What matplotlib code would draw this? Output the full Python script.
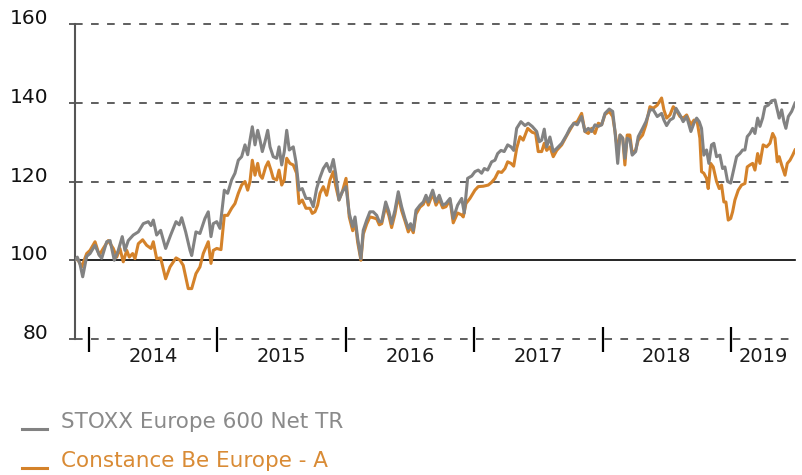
import matplotlib
matplotlib.use("Agg")
import matplotlib.pyplot as plt
from matplotlib.lines import Line2D

# ---------------- data ----------------
stoxx_t = [
    2013.891, 2013.909, 2013.930, 2013.951, 2013.982, 2014.008, 2014.047, 2014.080, 2014.099, 2014.138,
    2014.164, 2014.197, 2014.228, 2014.259, 2014.280, 2014.306, 2014.345, 2014.384, 2014.423, 2014.462,
    2014.483, 2014.501, 2014.527, 2014.558, 2014.597, 2014.636, 2014.678, 2014.703, 2014.722, 2014.753,
    2014.787, 2014.800, 2014.833, 2014.864, 2014.903, 2014.929, 2014.950, 2014.968, 2014.995, 2015.020,
    2015.054, 2015.080, 2015.111, 2015.137, 2015.163, 2015.189, 2015.215, 2015.236, 2015.254, 2015.272,
    2015.293, 2015.314, 2015.332, 2015.350, 2015.371, 2015.392, 2015.410, 2015.435, 2015.462, 2015.480,
    2015.501, 2015.521, 2015.540, 2015.560, 2015.591, 2015.612, 2015.636, 2015.661, 2015.690, 2015.721,
    2015.747, 2015.773, 2015.799, 2015.825, 2015.851, 2015.877, 2015.903, 2015.921, 2015.947, 2015.973,
    2016.002, 2016.027, 2016.054, 2016.072, 2016.093, 2016.118, 2016.136, 2016.163, 2016.188, 2016.214,
    2016.241, 2016.261, 2016.280, 2016.311, 2016.336, 2016.357, 2016.383, 2016.409, 2016.435, 2016.461,
    2016.487, 2016.505, 2016.526, 2016.547, 2016.578, 2016.604, 2016.625, 2016.643, 2016.677, 2016.703,
    2016.728, 2016.755, 2016.780, 2016.812, 2016.837, 2016.871, 2016.903, 2016.923, 2016.949, 2016.981,
    2017.006, 2017.032, 2017.058, 2017.079, 2017.105, 2017.136, 2017.162, 2017.183, 2017.209, 2017.234,
    2017.261, 2017.287, 2017.308, 2017.331, 2017.364, 2017.396, 2017.421, 2017.452, 2017.487, 2017.507,
    2017.526, 2017.546, 2017.565, 2017.590, 2017.616, 2017.643, 2017.682, 2017.720, 2017.746, 2017.777,
    2017.803, 2017.837, 2017.863, 2017.889, 2017.915, 2017.941, 2017.967, 2017.993, 2018.019, 2018.052,
    2018.079, 2018.097, 2018.118, 2018.136, 2018.157, 2018.174, 2018.192, 2018.213, 2018.231, 2018.258,
    2018.278, 2018.312, 2018.338, 2018.369, 2018.395, 2018.426, 2018.460, 2018.478, 2018.499, 2018.525,
    2018.551, 2018.572, 2018.603, 2018.628, 2018.655, 2018.688, 2018.712, 2018.733, 2018.753, 2018.771,
    2018.789, 2018.810, 2018.828, 2018.849, 2018.867, 2018.888, 2018.914, 2018.935, 2018.953, 2018.974,
    2018.998, 2019.018, 2019.044, 2019.070, 2019.091, 2019.109, 2019.127, 2019.148, 2019.169, 2019.187,
    2019.208, 2019.226, 2019.247, 2019.265, 2019.291, 2019.317, 2019.343, 2019.361, 2019.376, 2019.395,
    2019.413, 2019.428, 2019.447, 2019.473, 2019.499,
]
stoxx_v = [
    100.0, 100.8, 99.0, 95.8, 101.0, 101.7, 103.8, 101.3, 100.5, 104.7,
    105.0, 100.0, 102.5, 106.0, 102.5, 105.0, 106.4, 107.2, 109.3, 109.8,
    108.8, 110.2, 106.4, 107.6, 103.0, 106.4, 109.8, 109.0, 110.8, 107.2,
    102.5, 101.2, 107.2, 106.8, 110.6, 112.3, 106.0, 109.3, 109.8, 108.1,
    117.8, 117.0, 120.4, 122.1, 125.4, 126.3, 129.3, 126.8, 130.5, 133.9,
    129.3, 133.0, 130.5, 127.6, 130.1, 133.0, 128.8, 126.3, 125.9, 128.8,
    124.2, 127.6, 133.0, 128.0, 128.8, 125.0, 117.8, 118.2, 115.7, 115.7,
    113.6, 118.2, 121.0, 123.3, 124.6, 122.5, 125.6, 122.1, 115.3, 117.4,
    118.7, 111.9, 108.5, 111.0, 105.5, 100.4, 107.6, 110.2, 112.3, 112.3,
    111.4, 109.8, 109.8, 114.8, 112.3, 109.3, 112.7, 117.4, 113.6, 110.6,
    108.1, 109.3, 107.6, 112.7, 114.0, 114.8, 116.5, 114.8, 117.8, 114.8,
    116.5, 114.0, 114.4, 115.7, 110.6, 114.0, 115.7, 112.0, 120.8, 121.4,
    122.5, 122.9, 122.1, 123.3, 122.9, 125.0, 125.4, 127.1, 127.9, 127.6,
    129.3, 128.8, 127.9, 133.5, 135.2, 134.2, 134.8, 134.0, 132.7, 130.1,
    130.5, 133.3, 128.8, 131.3, 127.6, 128.4, 129.7, 131.8, 133.5, 134.8,
    134.4, 136.5, 132.7, 133.5, 132.7, 134.4, 134.0, 134.4, 137.3, 138.4,
    137.8, 132.7, 124.6, 131.8, 131.0, 125.9, 131.0, 130.5, 126.7, 127.6,
    131.4, 133.5, 135.2, 138.2, 138.2, 136.5, 137.3, 135.6, 134.2, 135.6,
    136.1, 138.6, 136.9, 135.2, 136.5, 132.7, 134.8, 136.1, 135.2, 133.5,
    126.7, 128.0, 124.6, 129.3, 129.7, 126.3, 126.7, 123.3, 123.7, 120.0,
    119.6, 122.5, 126.3, 127.1, 128.0, 128.0, 131.4, 132.2, 133.5, 132.2,
    136.1, 134.0, 136.1, 139.0, 139.4, 140.5, 140.7, 138.2, 136.1, 138.2,
    135.2, 133.5, 136.5, 137.8, 139.9,
]

fund_t = [
    2013.891, 2013.909, 2013.943, 2013.982, 2014.008, 2014.047, 2014.080, 2014.111, 2014.150, 2014.189,
    2014.216, 2014.241, 2014.267, 2014.294, 2014.314, 2014.340, 2014.358, 2014.384, 2014.418, 2014.449,
    2014.483, 2014.501, 2014.527, 2014.558, 2014.597, 2014.631, 2014.678, 2014.709, 2014.734, 2014.773,
    2014.800, 2014.833, 2014.864, 2014.890, 2014.929, 2014.950, 2014.968, 2014.995, 2015.028, 2015.054,
    2015.080, 2015.111, 2015.137, 2015.163, 2015.189, 2015.215, 2015.236, 2015.254, 2015.272, 2015.293,
    2015.314, 2015.332, 2015.350, 2015.376, 2015.396, 2015.417, 2015.435, 2015.462, 2015.480, 2015.501,
    2015.521, 2015.540, 2015.565, 2015.591, 2015.617, 2015.636, 2015.661, 2015.690, 2015.721, 2015.739,
    2015.760, 2015.781, 2015.799, 2015.825, 2015.851, 2015.877, 2015.903, 2015.921, 2015.947, 2015.973,
    2016.002, 2016.027, 2016.054, 2016.072, 2016.093, 2016.118, 2016.136, 2016.163, 2016.188, 2016.214,
    2016.241, 2016.261, 2016.280, 2016.311, 2016.336, 2016.357, 2016.383, 2016.409, 2016.435, 2016.461,
    2016.487, 2016.505, 2016.526, 2016.547, 2016.578, 2016.604, 2016.625, 2016.643, 2016.677, 2016.703,
    2016.728, 2016.755, 2016.780, 2016.812, 2016.837, 2016.871, 2016.903, 2016.915, 2016.936, 2016.967,
    2017.006, 2017.032, 2017.071, 2017.110, 2017.136, 2017.162, 2017.188, 2017.214, 2017.240, 2017.261,
    2017.287, 2017.308, 2017.331, 2017.357, 2017.382, 2017.417, 2017.452, 2017.479, 2017.499, 2017.526,
    2017.546, 2017.565, 2017.590, 2017.616, 2017.643, 2017.682, 2017.720, 2017.746, 2017.777, 2017.803,
    2017.837, 2017.863, 2017.889, 2017.915, 2017.941, 2017.967, 2017.993, 2018.019, 2018.052, 2018.079,
    2018.097, 2018.118, 2018.136, 2018.157, 2018.174, 2018.192, 2018.213, 2018.231, 2018.258, 2018.278,
    2018.312, 2018.338, 2018.369, 2018.395, 2018.426, 2018.460, 2018.478, 2018.499, 2018.525, 2018.551,
    2018.572, 2018.603, 2018.628, 2018.655, 2018.688, 2018.712, 2018.737, 2018.758, 2018.771, 2018.789,
    2018.810, 2018.823, 2018.842, 2018.862, 2018.888, 2018.909, 2018.927, 2018.945, 2018.961, 2018.979,
    2018.998, 2019.013, 2019.031, 2019.057, 2019.083, 2019.109, 2019.127, 2019.148, 2019.169, 2019.187,
    2019.208, 2019.226, 2019.251, 2019.278, 2019.304, 2019.325, 2019.343, 2019.361, 2019.376, 2019.395,
    2019.421, 2019.439, 2019.460, 2019.481, 2019.499,
]
fund_v = [
    100.0, 100.5, 98.3, 101.7, 102.5, 104.7, 101.3, 103.0, 105.0, 103.0,
    100.8, 103.0, 99.6, 102.5, 100.8, 101.7, 100.4, 104.2, 105.2, 103.8,
    103.0, 104.7, 100.4, 100.6, 95.3, 98.3, 100.6, 100.0, 98.7, 92.8,
    92.8, 96.6, 98.3, 101.7, 104.7, 99.2, 102.5, 103.0, 102.7, 111.4,
    111.4, 113.2, 114.4, 117.0, 119.1, 120.0, 117.8, 120.0, 125.4, 121.6,
    124.6, 121.6, 120.8, 123.7, 125.0, 122.9, 120.8, 120.4, 122.9, 119.1,
    120.4, 125.9, 124.6, 124.2, 122.1, 114.4, 115.3, 113.2, 113.2, 111.9,
    112.3, 114.0, 117.0, 118.7, 116.5, 120.4, 122.5, 119.0, 115.3, 117.4,
    120.8, 111.0, 107.5, 110.0, 104.5, 100.0, 106.6, 109.2, 111.0, 110.8,
    110.5, 109.0, 109.3, 113.8, 111.3, 108.3, 111.7, 116.4, 112.6, 110.0,
    107.2, 108.5, 107.0, 111.7, 113.5, 114.2, 115.8, 114.0, 116.9, 114.0,
    115.5, 113.3, 113.6, 115.3, 109.5, 112.0, 111.5, 111.0, 114.4, 115.7,
    117.8, 118.7, 118.8, 119.1, 119.8, 120.8, 122.5, 122.3, 123.3, 125.0,
    124.6, 123.9, 128.4, 131.4, 130.5, 133.5, 132.5, 132.2, 127.6, 127.6,
    129.7, 127.9, 128.8, 126.3, 127.9, 129.3, 131.6, 133.1, 134.8, 135.2,
    137.3, 132.7, 132.2, 133.5, 132.2, 134.8, 134.4, 137.0, 137.8, 136.5,
    132.7, 127.6, 131.8, 131.0, 124.2, 131.8, 131.8, 127.1, 128.0, 130.5,
    131.8, 134.4, 139.0, 138.6, 139.4, 141.2, 138.2, 136.1, 136.9, 139.0,
    138.2, 136.5, 136.1, 136.9, 134.4, 135.6, 135.2, 131.0, 122.5, 122.1,
    120.8, 118.2, 124.6, 123.7, 120.0, 118.2, 119.1, 114.8, 114.8, 110.2,
    110.6, 112.3, 115.3, 117.8, 119.1, 119.5, 123.7, 124.2, 124.6, 122.9,
    127.1, 124.6, 129.3, 128.8, 129.7, 132.2, 131.0, 125.0, 126.3, 124.2,
    121.6, 124.6, 125.4, 126.7, 128.0,
]

series_names = ["STOXX Europe 600 Net TR", "Constance Be Europe - A"]
y_ticks = [80, 100, 120, 140, 160]
y_tick_labels = ["80", "100", "120", "140", "160"]
year_bounds = [2014, 2015, 2016, 2017, 2018, 2019]
year_label_pos = [2014.5, 2015.5, 2016.5, 2017.5, 2018.5, 2019.25]
year_labels = ["2014", "2015", "2016", "2017", "2018", "2019"]

# ---------------- styling ----------------
GREY = "#828282"
ORANGE = "#D4822A"
GREY_TXT = "#8a8a8a"
ORANGE_TXT = "#D98B35"
W, H = 803, 475

fig = plt.figure(figsize=(W / 100, H / 100), dpi=100)
ax = fig.add_axes([75 / W, 1 - 339 / H, 720 / W, 315 / H])

ax.plot(fund_t, fund_v, color=ORANGE, lw=2.2, zorder=3, solid_joinstyle="round")
ax.plot(stoxx_t, stoxx_v, color=GREY, lw=2.2, zorder=4, solid_joinstyle="round")

ax.set_xlim(2013.891, 2019.499)
ax.set_ylim(80, 160)

for s in ["top", "right", "bottom"]:
    ax.spines[s].set_visible(False)
ax.spines["left"].set_color("#555555")
ax.spines["left"].set_linewidth(1.5)

# horizontal reference lines
for y in [80, 120, 140, 160]:
    ax.axhline(y, color="#333333", lw=1.1, ls=(0, (5, 5.5)), zorder=1, clip_on=False)
ax.axhline(100, color="black", lw=1.2, zorder=2, clip_on=False)

# y ticks
ax.set_yticks(y_ticks)
ax.set_yticklabels(y_tick_labels)
ax.tick_params(axis="y", length=4, width=1.1, color="#333333", pad=15,
               labelsize=14.5, labelcolor="#111111")
for lbl in ax.get_yticklabels():
    lbl.set_verticalalignment("baseline")

# x ticks: year boundaries and centred year labels
ax.set_xticks(year_bounds)
ax.set_xticklabels([""] * len(year_bounds))
ax.tick_params(axis="x", which="major", direction="inout", length=18, width=1.6,
               color="black", labelbottom=False)
ax.set_xticks(year_label_pos, minor=True)
ax.set_xticklabels(year_labels, minor=True)
ax.tick_params(axis="x", which="minor", length=0, pad=6, labelsize=14,
               labelcolor="#1a1a1a")

# legend (manual, below the chart)
leg_colors = [GREY, ORANGE]
txt_colors = [GREY_TXT, ORANGE_TXT]
leg_base = [428, 467]
for name, c, tc, yb in zip(series_names, leg_colors, txt_colors, leg_base):
    fig.add_artist(Line2D([22 / W, 47 / W], [1 - (yb + 1) / H] * 2,
                          transform=fig.transFigure, color=c, lw=2.2))
    fig.text(61 / W, 1 - yb / H, name, color=tc, fontsize=15.5, va="baseline", ha="left")

fig.savefig("out.png", dpi=100)
